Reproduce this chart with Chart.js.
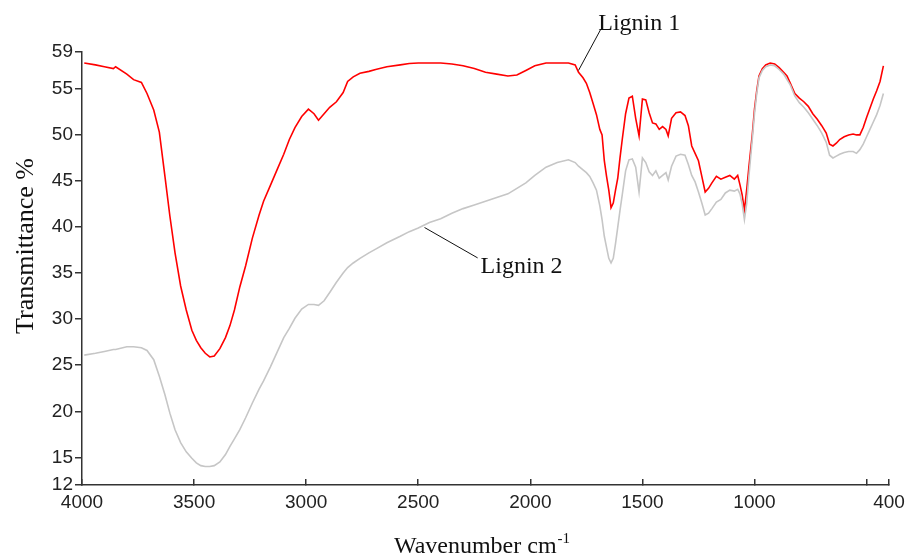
<!DOCTYPE html>
<html>
<head>
<meta charset="utf-8">
<script src="https://cdn.jsdelivr.net/npm/chart.js@4/dist/chart.umd.min.js"></script>
<style>
  body { margin: 0; background: #fff; }
  #wrap { width: 910px; height: 558px; }
</style>
</head>
<body>
<div id="wrap"><canvas id="ftirChart" width="910" height="558"></canvas></div>
<script>
// Wavenumber grid (cm-1)
const wavenumbers = [
  3990, 3940, 3900, 3860, 3850, 3800, 3770, 3735, 3710, 3680, 3655, 3630, 3608, 3585, 3560, 3535,
  3510, 3490, 3470, 3450, 3430, 3410, 3385, 3360, 3340, 3320, 3296, 3270, 3240, 3210, 3190, 3160,
  3130, 3100, 3075, 3050, 3020, 2990, 2965, 2945, 2920, 2895, 2865, 2835, 2815, 2790, 2760, 2720,
  2690, 2640, 2580, 2540, 2500, 2450, 2400, 2350, 2300, 2250, 2200, 2150, 2100, 2060, 2020, 1980,
  1930, 1880, 1830, 1800, 1785, 1765, 1750, 1735, 1720, 1705, 1690, 1680, 1670, 1660, 1650, 1640,
  1630, 1620, 1610, 1600, 1590, 1575, 1560, 1545, 1530, 1515, 1500, 1485, 1470, 1455, 1440, 1425,
  1410, 1395, 1385, 1370, 1350, 1330, 1310, 1295, 1280, 1265, 1250, 1235, 1220, 1205, 1190, 1170,
  1150, 1130, 1110, 1090, 1075, 1065, 1055, 1045, 1035, 1025, 1010, 1000, 990, 980, 965, 950,
  930, 910, 890, 870, 855, 840, 820, 800, 780, 760, 740, 720, 700, 680, 665, 650,
  635, 620, 600, 580, 560, 545, 530, 515, 500, 485, 470, 455, 440, 425
];

// Transmittance %, Lignin 1 (red)
const lignin1 = [
  57.8, 57.6, 57.4, 57.2, 57.4, 56.6, 56.0, 55.7, 54.5, 52.7, 50.3, 45.5, 41.2, 37.2, 33.6, 31.0,
  28.8, 27.7, 26.9, 26.3, 25.9, 26.0, 26.8, 28.0, 29.3, 31.0, 33.5, 35.8, 38.8, 41.3, 42.8, 44.5,
  46.2, 47.9, 49.5, 50.8, 52.0, 52.8, 52.3, 51.6, 52.3, 53.0, 53.6, 54.6, 55.8, 56.3, 56.7, 56.9,
  57.1, 57.4, 57.6, 57.75, 57.8, 57.8, 57.8, 57.7, 57.5, 57.2, 56.8, 56.6, 56.4, 56.5, 57.0, 57.5,
  57.8, 57.8, 57.8, 57.6, 56.8, 56.2, 55.6, 54.6, 53.4, 52.2, 50.6, 50.0, 47.2, 45.5, 44.0, 42.1,
  42.6, 44.0, 45.3, 47.5, 49.5, 52.3, 54.0, 54.2, 51.8, 49.9, 53.9, 53.8, 52.4, 51.3, 51.2, 50.6,
  50.9, 50.6, 49.9, 51.8, 52.4, 52.5, 52.1, 51.0, 48.8, 48.0, 47.2, 45.5, 43.8, 44.2, 44.8, 45.5,
  45.2, 45.4, 45.6, 45.2, 45.6, 44.6, 43.5, 41.8, 44.0, 46.5, 50.0, 52.8, 54.8, 56.4, 57.2, 57.6,
  57.8, 57.7, 57.3, 56.8, 56.4, 55.6, 54.5, 54.0, 53.6, 53.1, 52.3, 51.7, 51.0, 50.2, 49.0, 48.8,
  49.1, 49.5, 49.8, 50.0, 50.1, 50.0, 50.0, 50.8, 51.9, 52.9, 53.9, 54.8, 55.8, 57.5
];

// Transmittance %, Lignin 2 (grey)
const lignin2 = [
  26.1, 26.3, 26.5, 26.7, 26.7, 27.0, 27.0, 26.9, 26.6, 25.6, 23.8, 21.8, 19.8, 18.0, 16.6, 15.6,
  14.9, 14.4, 14.1, 14.0, 14.0, 14.1, 14.5, 15.3, 16.2, 17.0, 18.0, 19.3, 20.9, 22.4, 23.3, 24.8,
  26.4, 28.0, 29.0, 30.1, 31.1, 31.6, 31.6, 31.5, 32.0, 32.9, 34.0, 35.0, 35.6, 36.1, 36.6, 37.2,
  37.6, 38.3, 39.0, 39.5, 39.9, 40.5, 40.9, 41.5, 42.0, 42.4, 42.8, 43.2, 43.6, 44.2, 44.8, 45.6,
  46.5, 47.0, 47.3, 47.0, 46.6, 46.2, 45.9, 45.5, 44.8, 44.0, 42.3, 40.8, 39.0, 37.8, 36.6, 36.1,
  36.6, 38.2, 40.0, 41.8, 43.5, 46.1, 47.3, 47.4, 46.5, 43.8, 47.5, 47.0, 46.0, 45.6, 46.1, 45.3,
  45.6, 45.9, 45.1, 46.6, 47.7, 47.9, 47.8, 46.8, 45.6, 44.9, 43.8, 42.6, 41.3, 41.5, 42.0, 42.7,
  43.0, 43.7, 44.0, 43.9, 44.1, 43.6, 42.5, 40.8, 42.5, 45.5, 49.5, 52.3, 54.5, 56.2, 57.0, 57.4,
  57.6, 57.5, 57.1, 56.6, 56.0, 55.4, 54.2, 53.5, 53.0, 52.4, 51.7, 51.0, 50.2, 49.2, 47.8, 47.5,
  47.7, 47.9, 48.1, 48.2, 48.2, 48.0, 48.4, 49.0, 49.8, 50.6, 51.4, 52.2, 53.2, 54.5
];

// tick labels
const xTicks = [4000, 3500, 3000, 2500, 2000, 1500, 1000, 500, 400];
const xUnlabelled = [500];
const yTicks = [12, 15, 20, 25, 30, 35, 40, 45, 50, 55, 59];

// callout labels: text, point on the curve, end of leader, text start (data units)
const calloutText = ['Lignin 1', 'Lignin 2'];
const calloutFrom = [[1785, 57.0], [2472, 39.95]];
const calloutTo = [[1685, 61.5], [2235, 36.65]];
const calloutAt = [[1697, 61.4], [2222, 35.05]];

const serif = '"Liberation Serif", "Times New Roman", serif';
const sans = '"Liberation Sans", Arial, sans-serif';

const toPoints = (vals) => wavenumbers.map((w, i) => ({ x: w, y: vals[i] }));

// titles + callouts drawn on top of the chart
const annotations = {
  id: 'annotations',
  afterDraw(chart) {
    const ctx = chart.ctx;
    const xs = chart.scales.x, ys = chart.scales.y;
    ctx.save();

    // leader lines
    ctx.strokeStyle = '#111';
    ctx.lineWidth = 1;
    calloutFrom.forEach((p, i) => {
      ctx.beginPath();
      ctx.moveTo(xs.getPixelForValue(p[0]), ys.getPixelForValue(p[1]));
      ctx.lineTo(xs.getPixelForValue(calloutTo[i][0]), ys.getPixelForValue(calloutTo[i][1]));
      ctx.stroke();
    });

    ctx.fillStyle = '#111';
    ctx.font = '24px ' + serif;
    ctx.textBaseline = 'alphabetic';
    ctx.textAlign = 'left';
    calloutText.forEach((t, i) => {
      ctx.fillText(t, xs.getPixelForValue(calloutAt[i][0]), ys.getPixelForValue(calloutAt[i][1]));
    });

    // x axis title with superscript
    const main = 'Wavenumber cm';
    const sup = '-1';
    ctx.font = '24px ' + serif;
    const wMain = ctx.measureText(main).width;
    ctx.font = '15px ' + serif;
    const wSup = ctx.measureText(sup).width;
    const cx = (chart.chartArea.left + chart.chartArea.right) / 2;
    const startX = cx - (wMain + wSup) / 2 - 4;
    ctx.font = '24px ' + serif;
    ctx.fillText(main, startX, 553);
    ctx.font = '15px ' + serif;
    ctx.fillText(sup, startX + wMain + 1, 543);

    // y axis title
    ctx.translate(33, 246);
    ctx.rotate(-Math.PI / 2);
    ctx.font = '26px ' + serif;
    ctx.textAlign = 'center';
    ctx.fillText('Transmittance %', 0, 0);
    ctx.restore();
  }
};

const ctx = document.getElementById('ftirChart').getContext('2d');
const ftirChart = new Chart(ctx, {
  type: 'line',
  data: {
    datasets: [
      {
        label: 'Lignin 2',
        data: toPoints(lignin2),
        borderColor: '#c6c6c6',
        borderWidth: 1.6,
        pointRadius: 0,
        tension: 0
      },
      {
        label: 'Lignin 1',
        data: toPoints(lignin1),
        borderColor: '#ff0000',
        borderWidth: 1.6,
        pointRadius: 0,
        tension: 0
      }
    ]
  },
  options: {
    responsive: false,
    animation: false,
    layout: { padding: { top: 52, right: 21, left: 0, bottom: 0 } },
    plugins: {
      legend: { display: false },
      tooltip: { enabled: false }
    },
    scales: {
      x: {
        type: 'linear',
        reverse: true,
        min: 400,
        max: 4000,
        afterBuildTicks: (scale) => { scale.ticks = xTicks.map(v => ({ value: v })); },
        afterFit: (scale) => {
          scale.height = 73;
          scale.paddingLeft = 0;
          scale.paddingRight = 0;
        },
        ticks: {
          autoSkip: false,
          maxRotation: 0,
          padding: 12,
          color: '#222',
          font: { family: sans, size: 19 },
          callback: (v) => xUnlabelled.includes(v) ? '' : String(v)
        },
        grid: { drawOnChartArea: false, tickLength: -6, color: '#333', lineWidth: 1.5 },
        border: { color: '#333', width: 1.5 }
      },
      y: {
        min: 12,
        max: 59,
        afterBuildTicks: (scale) => { scale.ticks = yTicks.map(v => ({ value: v })); },
        afterFit: (scale) => {
          scale.width = 82;
          scale.paddingTop = 0;
          scale.paddingBottom = 0;
        },
        ticks: {
          autoSkip: false,
          padding: 2,
          color: '#222',
          font: { family: sans, size: 19 }
        },
        grid: { drawOnChartArea: false, tickLength: 7, color: '#333', lineWidth: 1.5 },
        border: { color: '#333', width: 1.5 }
      }
    }
  },
  plugins: [annotations]
});
</script>
</body>
</html>
